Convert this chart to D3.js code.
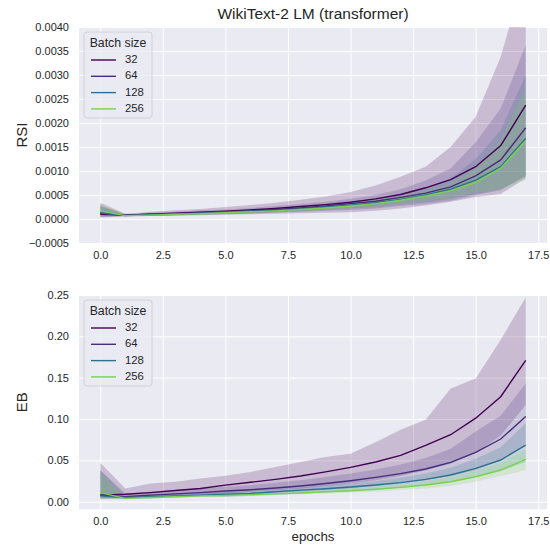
<!DOCTYPE html>
<html><head><meta charset="utf-8">
<script src="https://cdn.jsdelivr.net/npm/d3@7"></script>
<style>body{margin:0;background:#fff;} svg{display:block;font-family:"Liberation Sans",Arial,sans-serif;}</style>
</head><body>
<svg id="chart" width="550" height="545"></svg>
<script>
const epochs = [0,1,2,3,4,5,6,7,8,9,10,11,12,13,14,15,16,17];
const batchSizes = ["32","64","128","256"];
const colors = ["#440154","#472d7b","#2c728e","#7ad151"];
const xTicks = [0,2.5,5,7.5,10,12.5,15,17.5];
const rsiTicks = [-0.0005,0,0.0005,0.001,0.0015,0.002,0.0025,0.003,0.0035,0.004];
const ebTicks = [0,0.05,0.1,0.15,0.2,0.25];

// RSI
const rsi32  = [0.00010,0.00008,0.00010,0.00012,0.00014,0.00016,0.00019,0.00022,0.00026,0.00030,0.00035,0.00042,0.00051,0.00065,0.00082,0.00109,0.00153,0.00237];
const rsi32Hi= [0.00034,0.00011,0.00015,0.00018,0.00021,0.00025,0.00029,0.00034,0.00040,0.00047,0.00056,0.00070,0.00088,0.00109,0.00150,0.00213,0.00338,0.00520];
const rsi32Lo= [0.00003,0.00005,0.00006,0.00007,0.00008,0.00009,0.00010,0.00011,0.00012,0.00013,0.00014,0.00017,0.00022,0.00028,0.00036,0.00046,0.00052,0.00085];
const rsi64  = [0.00012,0.00008,0.00010,0.00011,0.00013,0.00015,0.00017,0.00020,0.00023,0.00027,0.00032,0.00037,0.00045,0.00054,0.00067,0.00090,0.00123,0.00190];
const rsi64Hi= [0.00028,0.00010,0.00013,0.00015,0.00018,0.00020,0.00023,0.00027,0.00031,0.00036,0.00042,0.00050,0.00062,0.00080,0.00105,0.00160,0.00230,0.00363];
const rsi64Lo= [0.00004,0.00006,0.00007,0.00008,0.00009,0.00010,0.00011,0.00013,0.00015,0.00017,0.00019,0.00022,0.00027,0.00031,0.00038,0.00050,0.00060,0.00090];
const rsi128  = [0.00013,0.00007,0.00009,0.00010,0.00012,0.00014,0.00016,0.00018,0.00021,0.00025,0.00029,0.00034,0.00041,0.00050,0.00062,0.00081,0.00109,0.00168];
const rsi128Hi= [0.00026,0.00009,0.00011,0.00013,0.00015,0.00017,0.00020,0.00023,0.00027,0.00031,0.00036,0.00043,0.00052,0.00065,0.00085,0.00125,0.00185,0.00300];
const rsi128Lo= [0.00005,0.00006,0.00007,0.00008,0.00009,0.00011,0.00012,0.00014,0.00016,0.00019,0.00022,0.00025,0.00030,0.00035,0.00042,0.00052,0.00062,0.00088];
const rsi256  = [0.00017,0.00007,0.00008,0.00010,0.00011,0.00013,0.00015,0.00017,0.00020,0.00023,0.00027,0.00032,0.00039,0.00048,0.00059,0.00076,0.00106,0.00163];
const rsi256Hi= [0.00030,0.00008,0.00010,0.00012,0.00014,0.00016,0.00018,0.00021,0.00024,0.00028,0.00033,0.00039,0.00047,0.00058,0.00075,0.00105,0.00165,0.00270];
const rsi256Lo= [0.00006,0.00006,0.00007,0.00008,0.00009,0.00011,0.00012,0.00014,0.00016,0.00019,0.00022,0.00026,0.00031,0.00037,0.00045,0.00055,0.00062,0.00081];

// EB
const eb32  = [0.008,0.009,0.011,0.0135,0.016,0.020,0.0235,0.027,0.031,0.036,0.0415,0.048,0.056,0.068,0.081,0.101,0.127,0.171];
const eb32Hi= [0.047,0.016,0.022,0.024,0.028,0.0315,0.036,0.042,0.048,0.054,0.058,0.072,0.087,0.099,0.137,0.149,0.196,0.247];
const eb32Lo= [0.004,0.005,0.006,0.007,0.008,0.010,0.012,0.014,0.016,0.019,0.022,0.026,0.031,0.038,0.046,0.059,0.080,0.117];
const eb64  = [0.008,0.006,0.008,0.0095,0.011,0.013,0.0145,0.0165,0.019,0.022,0.0254,0.0294,0.034,0.0395,0.0476,0.0597,0.0758,0.103];
const eb64Hi= [0.038,0.010,0.012,0.014,0.016,0.018,0.020,0.023,0.026,0.030,0.034,0.039,0.045,0.053,0.064,0.085,0.104,0.143];
const eb64Lo= [0.004,0.004,0.005,0.006,0.007,0.008,0.009,0.011,0.012,0.014,0.016,0.019,0.022,0.026,0.031,0.038,0.050,0.068];
const eb128  = [0.007,0.005,0.006,0.007,0.008,0.009,0.010,0.012,0.014,0.0157,0.0177,0.0202,0.023,0.027,0.0323,0.0403,0.0504,0.0685];
const eb128Hi= [0.038,0.007,0.008,0.009,0.010,0.012,0.013,0.015,0.017,0.020,0.022,0.025,0.029,0.034,0.041,0.052,0.066,0.095];
const eb128Lo= [0.003,0.003,0.004,0.005,0.006,0.006,0.007,0.008,0.010,0.011,0.013,0.015,0.017,0.020,0.024,0.030,0.037,0.048];
const eb256  = [0.011,0.004,0.005,0.006,0.007,0.0075,0.0085,0.0095,0.0105,0.0121,0.0133,0.015,0.0173,0.0202,0.0242,0.0302,0.0383,0.0512];
const eb256Hi= [0.037,0.005,0.006,0.007,0.008,0.009,0.010,0.011,0.013,0.014,0.016,0.018,0.021,0.025,0.030,0.037,0.047,0.063];
const eb256Lo= [0.004,0.003,0.004,0.005,0.006,0.006,0.007,0.008,0.009,0.010,0.011,0.012,0.014,0.016,0.019,0.024,0.031,0.038];

const svg = d3.select("#chart");
const textColor = "#262626";
const W = {left:79, right:547};
const x = d3.scaleLinear().domain([-0.85,17.85]).range([W.left, W.right]);

function panel(opts){
  const {top,bottom,domain,ticks,fmt,means,his,los,ylabel,id} = opts;
  const y = d3.scaleLinear().domain(domain).range([bottom, top]);
  const g = svg.append("g");
  g.append("rect").attr("x",W.left).attr("y",top).attr("width",W.right-W.left).attr("height",bottom-top).attr("fill","#eaeaf2");
  g.append("defs").append("clipPath").attr("id",id).append("rect")
    .attr("x",W.left).attr("y",top).attr("width",W.right-W.left).attr("height",bottom-top);
  const yAxis = d3.axisLeft(y).tickValues(ticks).tickFormat(fmt).tickSize(-(W.right-W.left)).tickPadding(10);
  const ya = g.append("g").attr("transform",`translate(${W.left},0)`).call(yAxis);
  const xAxis = d3.axisBottom(x).tickValues(xTicks).tickFormat(d3.format(".1f")).tickSize(-(bottom-top)).tickPadding(8);
  const xa = g.append("g").attr("transform",`translate(0,${bottom})`).call(xAxis);
  [ya,xa].forEach(a=>{
    a.select(".domain").remove();
    a.selectAll(".tick line").attr("stroke","#fff").attr("stroke-width",1);
    a.selectAll(".tick text").attr("fill",textColor).attr("font-size",11).attr("font-family","Liberation Sans, Arial, sans-serif");
  });
  const plot = g.append("g").attr("clip-path",`url(#${id})`);
  const area = d3.area().x((d,i)=>x(epochs[i])).y0(d=>y(d[0])).y1(d=>y(d[1]));
  const line = d3.line().x((d,i)=>x(epochs[i])).y(d=>y(d));
  batchSizes.forEach((b,k)=>{
    const pts = los[k].map((v,i)=>[v,his[k][i]]);
    plot.append("path").attr("d",area(pts)).attr("fill",colors[k]).attr("fill-opacity",0.2);
  });
  batchSizes.forEach((b,k)=>{
    plot.append("path").attr("d",line(means[k])).attr("fill","none").attr("stroke",colors[k]).attr("stroke-width",1.4);
  });
  g.append("text").attr("transform",`translate(23,${(top+bottom)/2}) rotate(-90)`)
    .attr("text-anchor","middle").attr("dominant-baseline","middle").attr("fill",textColor).attr("font-size",15).text(ylabel);
  const lx=84, ly=top+5;
  const lg = g.append("g");
  lg.append("rect").attr("x",lx).attr("y",ly).attr("width",68).attr("height",86).attr("rx",3)
    .attr("fill","#eaeaf2").attr("fill-opacity",0.8).attr("stroke","#cccccc").attr("stroke-width",0.8);
  lg.append("text").attr("x",lx+34).attr("y",ly+12).attr("text-anchor","middle").attr("dominant-baseline","middle")
    .attr("fill",textColor).attr("font-size",12.3).text("Batch size");
  batchSizes.forEach((b,k)=>{
    const yy = ly+28+k*16.3;
    lg.append("line").attr("x1",lx+7).attr("x2",lx+32).attr("y1",yy).attr("y2",yy).attr("stroke",colors[k]).attr("stroke-width",1.4);
    lg.append("text").attr("x",lx+41).attr("y",yy).attr("dominant-baseline","middle").attr("fill",textColor).attr("font-size",11.3).text(b);
  });
}

const minusFmt = f => (d => f(d).replace("-","\u2212"));
panel({top:27,bottom:243,domain:[-0.0005,0.004],ticks:rsiTicks,fmt:minusFmt(d3.format(".4f")),
  means:[rsi32,rsi64,rsi128,rsi256],his:[rsi32Hi,rsi64Hi,rsi128Hi,rsi256Hi],los:[rsi32Lo,rsi64Lo,rsi128Lo,rsi256Lo],ylabel:"RSI",id:"c1"});
panel({top:295,bottom:509.3,domain:[-0.0092,0.25],ticks:ebTicks,fmt:d3.format(".2f"),
  means:[eb32,eb64,eb128,eb256],his:[eb32Hi,eb64Hi,eb128Hi,eb256Hi],los:[eb32Lo,eb64Lo,eb128Lo,eb256Lo],ylabel:"EB",id:"c2"});

svg.append("text").attr("x",313).attr("y",15).attr("text-anchor","middle").attr("dominant-baseline","middle")
  .attr("fill",textColor).attr("font-size",15.5).text("WikiText-2 LM (transformer)");
svg.append("text").attr("x",313).attr("y",537).attr("text-anchor","middle").attr("dominant-baseline","middle")
  .attr("fill",textColor).attr("font-size",13.3).text("epochs");
</script>
</body></html>
